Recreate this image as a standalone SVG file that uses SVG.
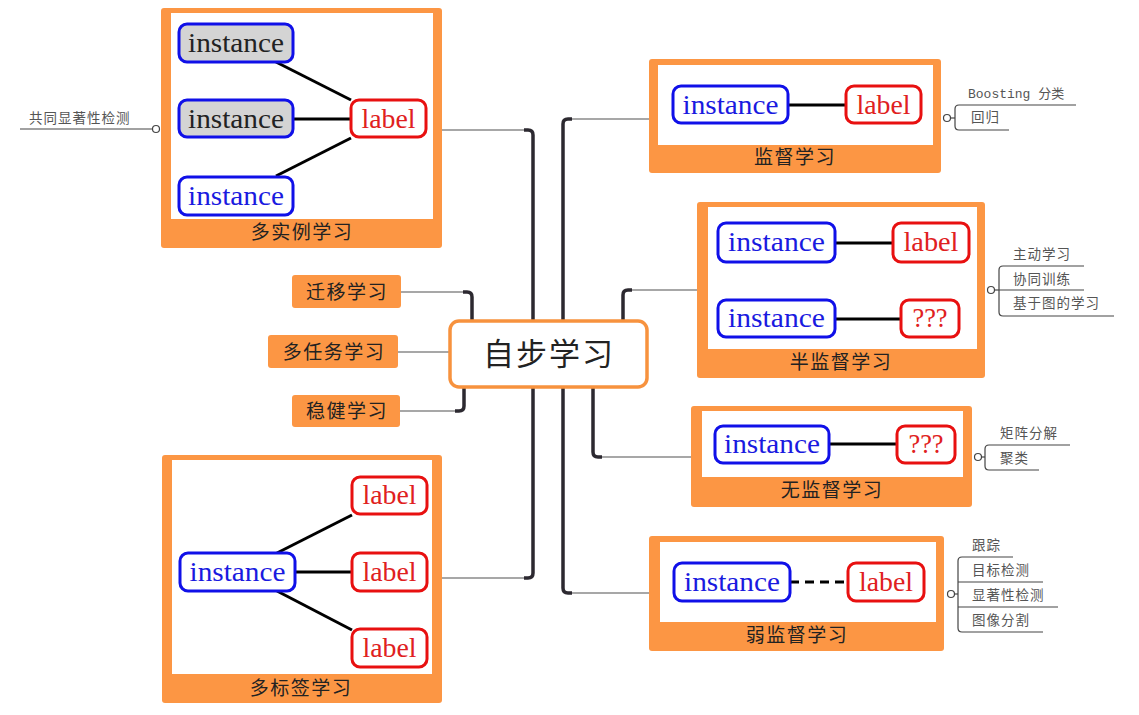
<svg xmlns="http://www.w3.org/2000/svg" width="1139" height="715" viewBox="0 0 1139 715">
<defs>
<style>
.ob{fill:#FC9644}
.in{fill:#ffffff}
.ttl{font-family:"Noto Sans CJK SC","Noto Sans",sans-serif;font-size:19px;fill:#222;text-anchor:middle;letter-spacing:1.5px}
.ib{fill:#fff;stroke:#1010e8;stroke-width:3}
.ig{fill:#d4d4d4;stroke:#1010e8;stroke-width:3}
.lb{fill:#fff;stroke:#e81010;stroke-width:3}
.it{font-family:"Liberation Serif","Noto Serif",serif;font-size:27px;fill:#1a1ae0;text-anchor:middle}
.itk{font-family:"Liberation Serif","Noto Serif",serif;font-size:27px;fill:#222;text-anchor:middle}
.lt{font-family:"Liberation Serif","Noto Serif",serif;font-size:27px;fill:#e02020;text-anchor:middle}
.ed{stroke:#000;stroke-width:3;fill:none}
.thin{stroke:#8a8a8a;stroke-width:1.6;fill:none}
.thick{stroke:#2c2930;stroke-width:3.5;fill:none}
.sub{stroke:#444;stroke-width:1.2;fill:none}
.subc{stroke:#444;stroke-width:1.2;fill:#fff}
.st{font-family:"Noto Sans CJK SC","Noto Sans",sans-serif;font-size:13.5px;fill:#555;letter-spacing:1px}
.stm{font-family:"Liberation Mono","Noto Sans CJK SC",monospace;font-size:13px;fill:#555}
</style>
</defs>
<rect width="1139" height="715" fill="#fff"/>
<g id="connectors">
<line class="thin" x1="442" y1="130" x2="527" y2="130"/>
<path class="thick" d="M524,130 L528,130 Q533,130 533,135 L533,323"/>
<line class="thin" x1="649" y1="119" x2="569" y2="119"/>
<path class="thick" d="M572,119 L568,119 Q563,119 563,124 L563,323"/>
<line class="thin" x1="697" y1="290" x2="629" y2="290"/>
<path class="thick" d="M632,290 L628,290 Q623,290 623,295 L623,323"/>
<line class="thin" x1="401" y1="292" x2="466" y2="292"/>
<path class="thick" d="M463,292 L467,292 Q472,292 472,297 L472,323"/>
<line class="thin" x1="398" y1="352" x2="452" y2="352"/>
<line class="thin" x1="400" y1="411" x2="458" y2="411"/>
<path class="thick" d="M455,411 L459,411 Q464,411 464,406 L464,386"/>
<line class="thin" x1="691" y1="457" x2="599" y2="457"/>
<path class="thick" d="M602,457 L598,457 Q593,457 593,452 L593,386"/>
<line class="thin" x1="649" y1="593" x2="569" y2="593"/>
<path class="thick" d="M572,593 L568,593 Q563,593 563,588 L563,386"/>
<line class="thin" x1="442" y1="578" x2="527" y2="578"/>
<path class="thick" d="M524,578 L528,578 Q533,578 533,573 L533,386"/>
</g>
<g id="center">
<rect x="450" y="321" width="197" height="66" rx="9" fill="#fff" stroke="#F7923E" stroke-width="3.5"/>
<text x="549" y="365" font-family="Noto Sans CJK SC, Noto Sans, sans-serif" font-size="31" fill="#222" text-anchor="middle" letter-spacing="2">自步学习</text>
</g>
<g id="multi-instance">
<rect class="ob" x="161" y="8" width="281" height="240" rx="3"/>
<rect class="in" x="171" y="13" width="262" height="206"/>
<text class="ttl" x="302" y="239">多实例学习</text>
<line class="ed" x1="276" y1="62" x2="351" y2="100"/>
<line class="ed" x1="293" y1="119" x2="351" y2="119"/>
<line class="ed" x1="276" y1="176" x2="351" y2="138"/>
<rect class="ig" x="179" y="24" width="114" height="38" rx="8"/>
<text class="itk" x="236" y="52" textLength="96" lengthAdjust="spacingAndGlyphs">instance</text>
<rect class="ig" x="179" y="100" width="114" height="37" rx="8"/>
<text class="itk" x="236" y="128" textLength="96" lengthAdjust="spacingAndGlyphs">instance</text>
<rect class="ib" x="179" y="177" width="114" height="38" rx="8"/>
<text class="it" x="236" y="205" textLength="96" lengthAdjust="spacingAndGlyphs">instance</text>
<rect class="lb" x="351" y="100" width="75" height="37" rx="8"/>
<text class="lt" x="388.5" y="128" textLength="54" lengthAdjust="spacingAndGlyphs">label</text>
</g>
<g id="co-saliency">
<text class="st" x="29" y="123">共同显著性检测</text>
<line class="sub" x1="20" y1="129" x2="152.5" y2="129"/>
<circle class="subc" cx="156" cy="129" r="3.5"/>
</g>
<g id="supervised">
<rect class="ob" x="649" y="59" width="292" height="114" rx="3"/>
<rect class="in" x="658" y="65" width="275" height="80"/>
<text class="ttl" x="795" y="164">监督学习</text>
<line class="ed" x1="788" y1="105" x2="846" y2="105"/>
<rect class="ib" x="673" y="86" width="115" height="37" rx="8"/>
<text class="it" x="730.5" y="114" textLength="96" lengthAdjust="spacingAndGlyphs">instance</text>
<rect class="lb" x="846" y="86" width="75" height="37" rx="8"/>
<text class="lt" x="883.5" y="114" textLength="54" lengthAdjust="spacingAndGlyphs">label</text>
</g>
<g id="supervised-sub">
<circle class="subc" cx="947" cy="118" r="3.5"/>
<line class="sub" x1="950.5" y1="118" x2="955" y2="118"/>
<path class="sub" d="M959,105 Q955,105 955,109 L955,126 Q955,130 959,130"/>
<line class="sub" x1="959" y1="105" x2="1076" y2="105"/>
<line class="sub" x1="959" y1="130" x2="1009" y2="130"/>
<text class="stm" x="968" y="98">Boosting 分类</text>
<text class="st" x="971" y="122">回归</text>
</g>
<g id="semi-supervised">
<rect class="ob" x="697" y="202" width="288" height="176" rx="3"/>
<rect class="in" x="708" y="207" width="269" height="142"/>
<text class="ttl" x="841" y="369">半监督学习</text>
<line class="ed" x1="835" y1="243" x2="893" y2="243"/>
<line class="ed" x1="835" y1="319" x2="901" y2="319"/>
<rect class="ib" x="718" y="223" width="117" height="39" rx="8"/>
<text class="it" x="776.5" y="251" textLength="97" lengthAdjust="spacingAndGlyphs">instance</text>
<rect class="lb" x="893" y="223" width="76" height="39" rx="8"/>
<text class="lt" x="931" y="251" textLength="55" lengthAdjust="spacingAndGlyphs">label</text>
<rect class="ib" x="718" y="300" width="117" height="37" rx="8"/>
<text class="it" x="776.5" y="327" textLength="97" lengthAdjust="spacingAndGlyphs">instance</text>
<rect class="lb" x="901" y="300" width="58" height="37" rx="8"/>
<text class="lt" x="930" y="327" textLength="35" lengthAdjust="spacingAndGlyphs">???</text>
</g>
<g id="semi-sub">
<circle class="subc" cx="991" cy="290" r="3.5"/>
<line class="sub" x1="994.5" y1="290" x2="999" y2="290"/>
<path class="sub" d="M1003,266 Q999,266 999,270 L999,312 Q999,316 1003,316"/>
<line class="sub" x1="1003" y1="266" x2="1084" y2="266"/>
<line class="sub" x1="999" y1="290" x2="1084" y2="290"/>
<line class="sub" x1="1003" y1="316" x2="1114" y2="316"/>
<text class="st" x="1013" y="259">主动学习</text>
<text class="st" x="1013" y="284">协同训练</text>
<text class="st" x="1013" y="308">基于图的学习</text>
</g>
<g id="unsupervised">
<rect class="ob" x="691" y="406" width="281" height="101" rx="3"/>
<rect class="in" x="702" y="411" width="261" height="66"/>
<text class="ttl" x="832" y="497">无监督学习</text>
<line class="ed" x1="829" y1="444" x2="897" y2="444"/>
<rect class="ib" x="715" y="426" width="114" height="37" rx="8"/>
<text class="it" x="772" y="453" textLength="96" lengthAdjust="spacingAndGlyphs">instance</text>
<rect class="lb" x="897" y="426" width="58" height="37" rx="8"/>
<text class="lt" x="926" y="453" textLength="35" lengthAdjust="spacingAndGlyphs">???</text>
</g>
<g id="unsup-sub">
<circle class="subc" cx="978" cy="457" r="3.5"/>
<line class="sub" x1="981.5" y1="457" x2="985" y2="457"/>
<path class="sub" d="M989,445 Q985,445 985,449 L985,466 Q985,470 989,470"/>
<line class="sub" x1="989" y1="445" x2="1070" y2="445"/>
<line class="sub" x1="989" y1="470" x2="1039" y2="470"/>
<text class="st" x="1000" y="438">矩阵分解</text>
<text class="st" x="1000" y="463">聚类</text>
</g>
<g id="weakly-supervised">
<rect class="ob" x="649" y="536" width="295" height="115" rx="3"/>
<rect class="in" x="660" y="542" width="276" height="80"/>
<text class="ttl" x="797" y="642">弱监督学习</text>
<line class="ed" x1="790" y1="582" x2="848" y2="582" stroke-dasharray="9,6"/>
<rect class="ib" x="674" y="563" width="116" height="38" rx="8"/>
<text class="it" x="732" y="591" textLength="96" lengthAdjust="spacingAndGlyphs">instance</text>
<rect class="lb" x="848" y="563" width="76" height="38" rx="8"/>
<text class="lt" x="886" y="591" textLength="54" lengthAdjust="spacingAndGlyphs">label</text>
</g>
<g id="weak-sub">
<circle class="subc" cx="951" cy="594" r="3.5"/>
<line class="sub" x1="954.5" y1="594" x2="958" y2="594"/>
<path class="sub" d="M962,557 Q958,557 958,561 L958,628 Q958,632 962,632"/>
<line class="sub" x1="962" y1="557" x2="1013" y2="557"/>
<line class="sub" x1="958" y1="582" x2="1043" y2="582"/>
<line class="sub" x1="958" y1="607" x2="1058" y2="607"/>
<line class="sub" x1="962" y1="632" x2="1043" y2="632"/>
<text class="st" x="972" y="550">跟踪</text>
<text class="st" x="972" y="575">目标检测</text>
<text class="st" x="972" y="600">显著性检测</text>
<text class="st" x="972" y="625">图像分割</text>
</g>
<g id="multi-label">
<rect class="ob" x="162" y="455" width="280" height="248" rx="3"/>
<rect class="in" x="172" y="460" width="260" height="214"/>
<text class="ttl" x="301" y="695">多标签学习</text>
<line class="ed" x1="277" y1="553" x2="352" y2="515"/>
<line class="ed" x1="295" y1="572" x2="352" y2="572"/>
<line class="ed" x1="277" y1="591" x2="352" y2="630"/>
<rect class="ib" x="180" y="553" width="115" height="38" rx="8"/>
<text class="it" x="237.5" y="581" textLength="96" lengthAdjust="spacingAndGlyphs">instance</text>
<rect class="lb" x="352" y="477" width="75" height="37" rx="8"/>
<text class="lt" x="389.5" y="504" textLength="54" lengthAdjust="spacingAndGlyphs">label</text>
<rect class="lb" x="352" y="553" width="75" height="38" rx="8"/>
<text class="lt" x="389.5" y="581" textLength="54" lengthAdjust="spacingAndGlyphs">label</text>
<rect class="lb" x="352" y="629" width="75" height="38" rx="8"/>
<text class="lt" x="389.5" y="657" textLength="54" lengthAdjust="spacingAndGlyphs">label</text>
</g>
<g id="transfer">
<rect class="ob" x="292" y="275" width="109" height="33" rx="3"/>
<text class="ttl" x="347" y="299">迁移学习</text>
</g>
<g id="multi-task">
<rect class="ob" x="268" y="335" width="130" height="33" rx="3"/>
<text class="ttl" x="334" y="359">多任务学习</text>
</g>
<g id="robust">
<rect class="ob" x="292" y="395" width="108" height="32" rx="3"/>
<text class="ttl" x="347" y="418">稳健学习</text>
</g>
</svg>
